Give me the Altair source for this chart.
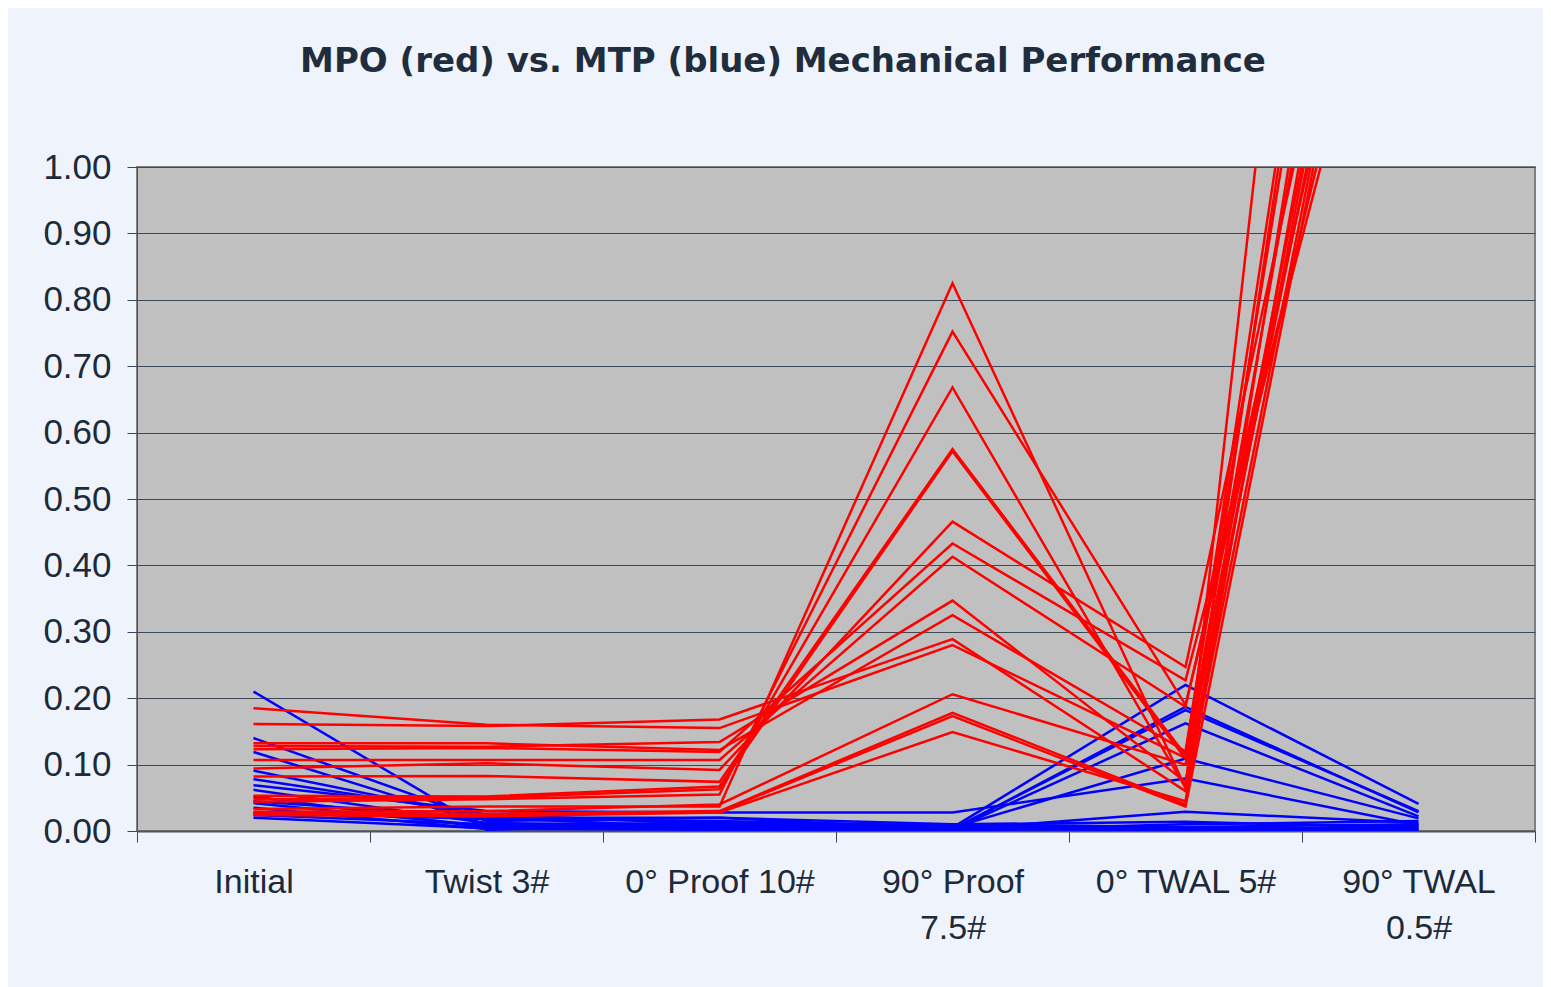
import altair as alt
import pandas as pd

categories = ["Initial", "Twist 3#", "0° Proof 10#", "90° Proof\n7.5#", "0° TWAL 5#", "90° TWAL\n0.5#"]

# MPO (red) series, one list per specimen, values per category
mpo = [
    [0.185, 0.160, 0.155, 0.280, 0.110, 1.90],
    [0.161, 0.158, 0.168, 0.289, 0.060, 1.81],
    [0.132, 0.132, 0.122, 0.325, 0.120, 2.26],
    [0.128, 0.127, 0.134, 0.347, 0.074, 1.90],
    [0.123, 0.125, 0.119, 0.433, 0.227, 1.56],
    [0.107, 0.107, 0.107, 0.413, 0.187, 1.73],
    [0.094, 0.102, 0.092, 0.466, 0.247, 1.87],
    [0.082, 0.083, 0.074, 0.575, 0.114, 2.41],
    [0.053, 0.052, 0.067, 0.572, 0.109, 2.07],
    [0.048, 0.050, 0.063, 0.668, 0.065, 2.41],
    [0.044, 0.048, 0.055, 0.752, 0.190, 1.63],
    [0.033, 0.037, 0.037, 0.825, 0.065, 3.18],
    [0.029, 0.030, 0.040, 0.206, 0.100, 1.83],
    [0.027, 0.026, 0.030, 0.178, 0.040, 2.21],
    [0.025, 0.024, 0.029, 0.173, 0.037, 1.79],
    [0.024, 0.022, 0.028, 0.149, 0.045, 2.01],
]

# MTP (blue) series
mtp = [
    [0.210, 0.002, 0.010, 0.005, 0.220, 0.041],
    [0.140, 0.015, 0.020, 0.002, 0.187, 0.028],
    [0.119, 0.010, 0.005, 0.003, 0.182, 0.030],
    [0.091, 0.020, 0.005, 0.002, 0.162, 0.022],
    [0.078, 0.025, 0.010, 0.005, 0.109, 0.019],
    [0.069, 0.030, 0.028, 0.028, 0.079, 0.009],
    [0.062, 0.012, 0.008, 0.002, 0.029, 0.012],
    [0.052, 0.005, 0.003, 0.010, 0.014, 0.005],
    [0.045, 0.020, 0.020, 0.010, 0.006, 0.010],
    [0.042, 0.008, 0.005, 0.003, 0.002, 0.002],
    [0.035, 0.003, 0.002, 0.001, 0.010, 0.015],
    [0.028, 0.018, 0.015, 0.008, 0.004, 0.004],
    [0.024, 0.010, 0.012, 0.006, 0.001, 0.008],
    [0.020, 0.004, 0.003, 0.002, 0.003, 0.003],
]

y_ticks = [0.0, 0.1, 0.2, 0.3, 0.4, 0.5, 0.6, 0.7, 0.8, 0.9, 1.0]


def to_long(series, group, prefix):
    rows = []
    for s, vals in enumerate(series):
        for i, v in enumerate(vals):
            rows.append({"series": f"{prefix}{s}", "group": group, "cat": categories[i], "idx": i, "value": v})
    return rows


df_red = pd.DataFrame(to_long(mpo, "MPO", "r"))
df_blue = pd.DataFrame(to_long(mtp, "MTP", "b"))

FONT = "Liberation Sans"

x_enc = alt.X(
    "cat:N",
    sort=categories,
    scale=alt.Scale(paddingInner=0, paddingOuter=0),
    axis=alt.Axis(
        title=None,
        labelAngle=0,
        labelExpr="split(datum.label, '\\n')",
        labelFontSize=34,
        labelFont=FONT,
        labelColor="#1c2a3a",
        labelPadding=23,
        labelLineHeight=46,
        labelBaseline="top",
        labelLimit=500,
        tickBand="extent",
        tickSize=11,
        tickColor="#3a4654",
        domainColor="#4a545e",
        domainWidth=2,
        grid=False,
    ),
)

y_enc = alt.Y(
    "value:Q",
    scale=alt.Scale(domain=[0, 1], nice=False, zero=True),
    axis=alt.Axis(
        title=None,
        values=y_ticks,
        format=".2f",
        labelFontSize=35,
        labelFont=FONT,
        labelColor="#1c2a3a",
        labelPadding=16,
        tickSize=10,
        tickColor="#3a4654",
        domainColor="#4a545e",
        gridColor="#3c4a58",
        gridWidth=1,
        gridOpacity=1,
    ),
)

blue = alt.Chart(df_blue).mark_line(clip=True, color="#0000ff", strokeWidth=2.5).encode(
    x=x_enc, y=y_enc, detail="series:N", order="idx:Q"
)
red = alt.Chart(df_red).mark_line(clip=True, color="#ff0000", strokeWidth=2.5).encode(
    x=x_enc, y=y_enc, detail="series:N", order="idx:Q"
)

chart = (
    alt.layer(blue, red)
    .properties(
        width=1398,
        height=664,
        padding={"left": 129, "top": 159, "right": 8, "bottom": 156},
        autosize=alt.AutoSizeParams(type="none"),
        background="#eff3fb",
        title=alt.TitleParams(
            "MPO (red) vs. MTP (blue) Mechanical Performance",
            font="DejaVu Sans",
            fontSize=34,
            fontWeight="bold",
            color="#1f2d3d",
            offset=71,
            dx=-53,
        ),
    )
    .configure_view(fill="#c0c0c0", stroke="#808080", strokeWidth=2)
)

chart.save("out.html", embed_options={"renderer": "svg", "actions": False})
